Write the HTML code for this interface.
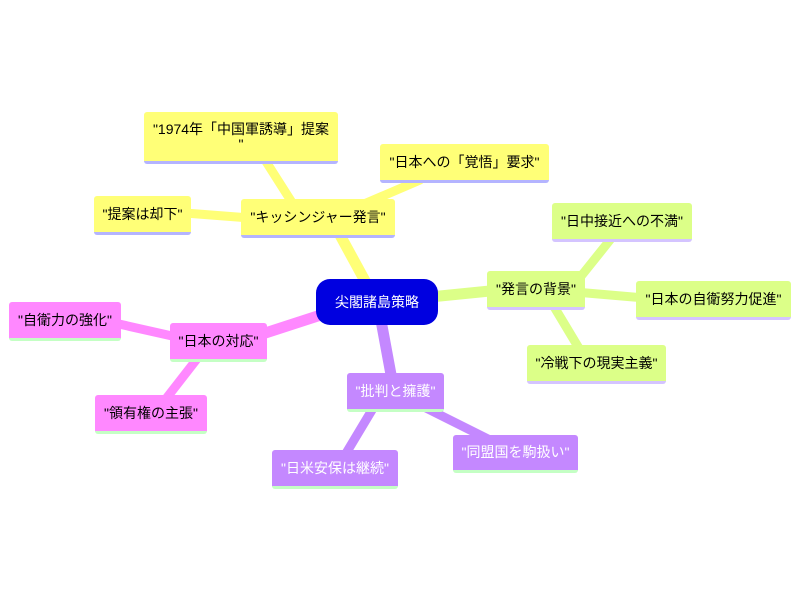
<!DOCTYPE html>
<html><head><meta charset="utf-8"><style>
body{margin:0;width:800px;height:600px;background:#fff;position:relative;overflow:hidden;font-family:"Liberation Sans","Noto Sans CJK JP",sans-serif;}
.n{position:absolute;display:flex;align-items:center;justify-content:center;font-size:14px;color:#000;border-radius:3px;box-sizing:border-box;text-align:center;line-height:15px;white-space:nowrap}
.y{background:#ffff77;border-bottom:3px solid #b4b4ff}
.g{background:#dcff88;border-bottom:3px solid #d4c4ff}
.p{background:#ff88ff;border-bottom:3px solid #c4ffc4}
.v{background:#c488ff;border-bottom:3px solid #c4ffc4;color:#fff}
svg{position:absolute;left:0;top:0}
</style></head><body>
<svg width="800" height="600">
<g stroke-linecap="round" fill="none">
<path d="M370 290 L340 235" stroke="#ffff77" stroke-width="11"/>
<path d="M300 215 L265 160" stroke="#ffff77" stroke-width="9"/>
<path d="M350 210 L420 180" stroke="#ffff77" stroke-width="9"/>
<path d="M250 218 L185 213" stroke="#ffff77" stroke-width="9"/>
<path d="M430 297 L500 290" stroke="#dcff88" stroke-width="11"/>
<path d="M570 290 L610 240" stroke="#dcff88" stroke-width="9"/>
<path d="M575 292 L645 298" stroke="#dcff88" stroke-width="9"/>
<path d="M550 300 L580 350" stroke="#dcff88" stroke-width="9"/>
<path d="M330 312 L250 338" stroke="#ff88ff" stroke-width="11"/>
<path d="M190 340 L110 322" stroke="#ff88ff" stroke-width="9"/>
<path d="M200 355 L165 400" stroke="#ff88ff" stroke-width="9"/>
<path d="M380 315 L392 380" stroke="#c488ff" stroke-width="11"/>
<path d="M375 405 L345 455" stroke="#c488ff" stroke-width="9"/>
<path d="M420 405 L490 440" stroke="#c488ff" stroke-width="9"/>
</g></svg>
<div class="n" style="left:316px;top:279px;width:122px;height:46px;background:#0000e0;color:#fff;border-radius:14px;font-size:14px">尖閣諸島策略</div>
<div class="n y" style="left:241px;top:199px;width:154px;height:39px">"キッシンジャー発言"</div>
<div class="n y" style="left:144px;top:112px;width:194px;height:52px;padding:0 4px">"1974年「中国軍誘導」提案<br>"</div>
<div class="n y" style="left:380px;top:144px;width:169px;height:39px">"日本への「覚悟」要求"</div>
<div class="n y" style="left:94px;top:196px;width:97px;height:39px">"提案は却下"</div>
<div class="n g" style="left:487px;top:271px;width:98px;height:39px">"発言の背景"</div>
<div class="n g" style="left:552px;top:203px;width:140px;height:39px">"日中接近への不満"</div>
<div class="n g" style="left:636px;top:281px;width:155px;height:39px">"日本の自衛努力促進"</div>
<div class="n g" style="left:527px;top:345px;width:139px;height:39px">"冷戦下の現実主義"</div>
<div class="n p" style="left:170px;top:323px;width:97px;height:39px">"日本の対応"</div>
<div class="n p" style="left:9px;top:302px;width:112px;height:39px">"自衛力の強化"</div>
<div class="n p" style="left:95px;top:395px;width:112px;height:39px">"領有権の主張"</div>
<div class="n v" style="left:347px;top:373px;width:97px;height:39px">"批判と擁護"</div>
<div class="n v" style="left:272px;top:450px;width:126px;height:39px">"日米安保は継続"</div>
<div class="n v" style="left:453px;top:435px;width:125px;height:38px">"同盟国を駒扱い"</div>
</body></html>
